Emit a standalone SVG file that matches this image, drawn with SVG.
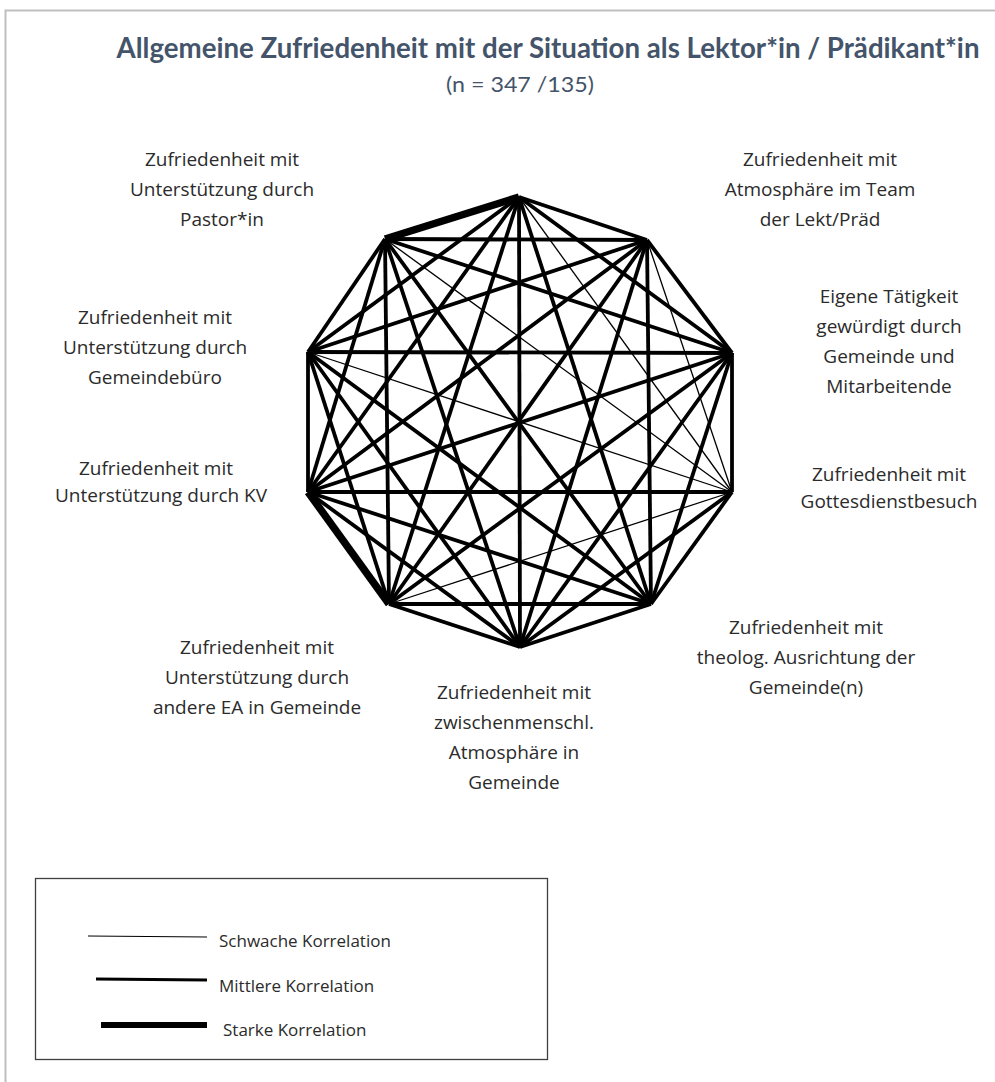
<svg xmlns="http://www.w3.org/2000/svg" width="995" height="1082" viewBox="0 0 995 1082">
<style>
.lbl{font-family:"Open Sans","Noto Sans","DejaVu Sans",sans-serif;font-size:19px;fill:#2b2b2b;text-anchor:middle}
.leg{font-family:"Open Sans","Noto Sans","DejaVu Sans",sans-serif;font-size:17px;fill:#2b2b2b}
.title{font-family:Lato,"Open Sans",sans-serif;font-weight:bold;font-size:28px;fill:#44546A;text-anchor:middle}
.sub{font-family:Lato,"Open Sans",sans-serif;font-size:21px;fill:#44546A;text-anchor:middle}
.m{stroke:#000;stroke-width:3.8;fill:none}
.w{stroke:#000;stroke-width:1.3;fill:none}
.s{stroke:#000;stroke-width:7.5;fill:none}
</style>
<rect width="995" height="1082" fill="#fff"/>
<path d="M5.5,1082 V10.5 H995" fill="none" stroke="#BFBFBF" stroke-width="2"/>
<g id="title">
<text class="title" x="548" y="58" textLength="863" lengthAdjust="spacingAndGlyphs">Allgemeine Zufriedenheit mit der Situation als Lektor*in / Prädikant*in</text>
<text class="sub" x="520" y="92" textLength="148" lengthAdjust="spacingAndGlyphs">(n = 347 /135)</text>
</g>
<g id="connectors">
<line class="m" x1="519" y1="197" x2="647" y2="240"/>
<line class="m" x1="519" y1="197" x2="732" y2="353"/>
<line class="m" x1="519" y1="197" x2="651" y2="604"/>
<line class="m" x1="519" y1="197" x2="520" y2="647"/>
<line class="m" x1="519" y1="197" x2="389" y2="604"/>
<line class="m" x1="519" y1="197" x2="308" y2="492"/>
<line class="m" x1="519" y1="197" x2="308" y2="352"/>
<line class="m" x1="647" y1="240" x2="732" y2="353"/>
<line class="m" x1="647" y1="240" x2="651" y2="604"/>
<line class="m" x1="647" y1="240" x2="520" y2="647"/>
<line class="m" x1="647" y1="240" x2="389" y2="604"/>
<line class="m" x1="647" y1="240" x2="308" y2="492"/>
<line class="m" x1="647" y1="240" x2="308" y2="352"/>
<line class="m" x1="647" y1="240" x2="385" y2="239"/>
<line class="m" x1="732" y1="353" x2="732" y2="492"/>
<line class="m" x1="732" y1="353" x2="651" y2="604"/>
<line class="m" x1="732" y1="353" x2="520" y2="647"/>
<line class="m" x1="732" y1="353" x2="389" y2="604"/>
<line class="m" x1="732" y1="353" x2="308" y2="492"/>
<line class="m" x1="732" y1="353" x2="308" y2="352"/>
<line class="m" x1="732" y1="353" x2="385" y2="239"/>
<line class="m" x1="732" y1="492" x2="651" y2="604"/>
<line class="m" x1="732" y1="492" x2="520" y2="647"/>
<line class="m" x1="732" y1="492" x2="308" y2="492"/>
<line class="m" x1="651" y1="604" x2="520" y2="647"/>
<line class="m" x1="651" y1="604" x2="389" y2="604"/>
<line class="m" x1="651" y1="604" x2="308" y2="492"/>
<line class="m" x1="651" y1="604" x2="308" y2="352"/>
<line class="m" x1="651" y1="604" x2="385" y2="239"/>
<line class="m" x1="520" y1="647" x2="389" y2="604"/>
<line class="m" x1="520" y1="647" x2="308" y2="492"/>
<line class="m" x1="520" y1="647" x2="308" y2="352"/>
<line class="m" x1="520" y1="647" x2="385" y2="239"/>
<line class="m" x1="389" y1="604" x2="308" y2="352"/>
<line class="m" x1="389" y1="604" x2="385" y2="239"/>
<line class="m" x1="308" y1="492" x2="308" y2="352"/>
<line class="m" x1="308" y1="492" x2="385" y2="239"/>
<line class="m" x1="308" y1="352" x2="385" y2="239"/>
<line class="w" x1="519" y1="197" x2="732" y2="492"/>
<line class="w" x1="647" y1="240" x2="732" y2="492"/>
<line class="w" x1="732" y1="492" x2="389" y2="604"/>
<line class="w" x1="732" y1="492" x2="308" y2="352"/>
<line class="w" x1="732" y1="492" x2="385" y2="239"/>
<line class="s" x1="519" y1="197" x2="385" y2="239"/>
<line class="s" x1="389" y1="604" x2="308" y2="492"/>
</g>
<g id="n-pastor">
<text class="lbl" x="222" y="166">Zufriedenheit mit</text>
<text class="lbl" x="222" y="196">Unterstützung durch</text>
<text class="lbl" x="222" y="226">Pastor*in</text>
</g>
<g id="n-team">
<text class="lbl" x="820" y="166">Zufriedenheit mit</text>
<text class="lbl" x="820" y="196">Atmosphäre im Team</text>
<text class="lbl" x="820" y="226">der Lekt/Präd</text>
</g>
<g id="n-gemeinde-wuerdigung">
<text class="lbl" x="889" y="303">Eigene Tätigkeit</text>
<text class="lbl" x="889" y="333">gewürdigt durch</text>
<text class="lbl" x="889" y="363">Gemeinde und</text>
<text class="lbl" x="889" y="393">Mitarbeitende</text>
</g>
<g id="n-gottesdienst">
<text class="lbl" x="889" y="481">Zufriedenheit mit</text>
<text class="lbl" x="889" y="508">Gottesdienstbesuch</text>
</g>
<g id="n-theolog">
<text class="lbl" x="806" y="634">Zufriedenheit mit</text>
<text class="lbl" x="806" y="664">theolog. Ausrichtung der</text>
<text class="lbl" x="806" y="694">Gemeinde(n)</text>
</g>
<g id="n-zwischenmenschl">
<text class="lbl" x="514" y="699">Zufriedenheit mit</text>
<text class="lbl" x="514" y="729">zwischenmenschl.</text>
<text class="lbl" x="514" y="759">Atmosphäre in</text>
<text class="lbl" x="514" y="789">Gemeinde</text>
</g>
<g id="n-andere-ea">
<text class="lbl" x="257" y="654">Zufriedenheit mit</text>
<text class="lbl" x="257" y="684">Unterstützung durch</text>
<text class="lbl" x="257" y="714">andere EA in Gemeinde</text>
</g>
<g id="n-kv">
<text class="lbl" x="156" y="475">Zufriedenheit mit</text>
<text class="lbl" x="161" y="502">Unterstützung durch KV</text>
</g>
<g id="n-gemeindebuero">
<text class="lbl" x="155" y="324">Zufriedenheit mit</text>
<text class="lbl" x="155" y="354">Unterstützung durch</text>
<text class="lbl" x="155" y="384">Gemeindebüro</text>
</g>
<g id="legend">
<rect x="35.5" y="878.5" width="512" height="181" fill="none" stroke="#404040" stroke-width="1.3"/>
<line x1="88" y1="936" x2="207" y2="937" stroke="#000" stroke-width="1.2"/>
<line x1="96" y1="979" x2="207" y2="980" stroke="#000" stroke-width="2.8"/>
<line x1="101" y1="1025" x2="207" y2="1025" stroke="#000" stroke-width="6"/>
<text class="leg" x="219" y="947">Schwache Korrelation</text>
<text class="leg" x="219" y="992">Mittlere Korrelation</text>
<text class="leg" x="223" y="1036">Starke Korrelation</text>
</g>
</svg>
